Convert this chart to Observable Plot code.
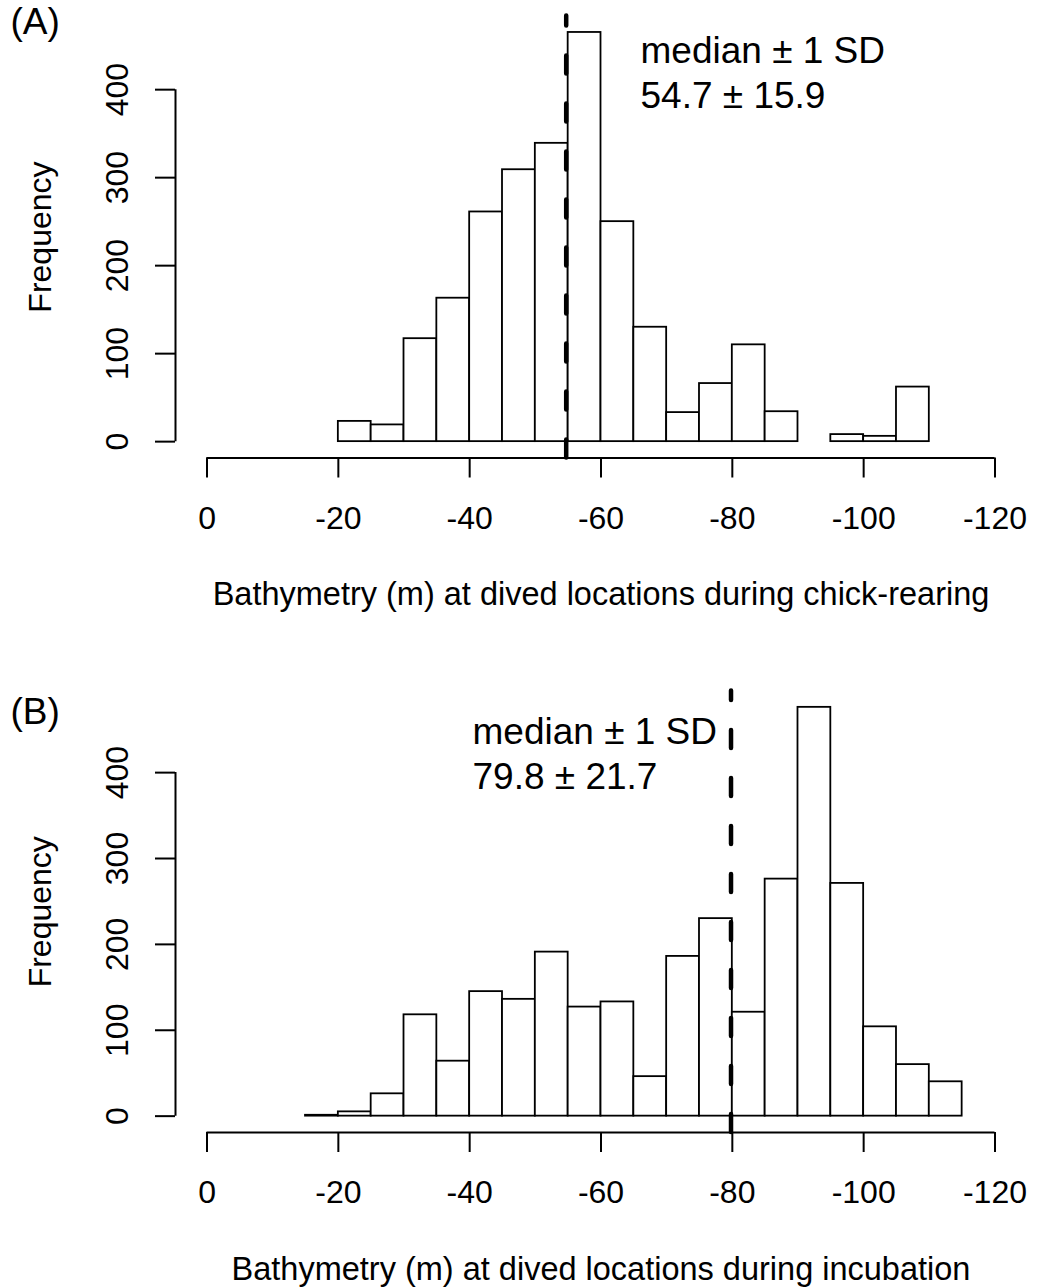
<!DOCTYPE html>
<html>
<head>
<meta charset="utf-8">
<script src="https://cdn.jsdelivr.net/npm/d3@7"></script>
<script src="https://cdn.jsdelivr.net/npm/@observablehq/plot@0.6"></script>
<style>
  html, body { margin: 0; padding: 0; background: #fff; }
  #chart svg { display: block; }
</style>
</head>
<body>
<div id="chart"></div>
<script>
// ---- data ----
const xTicks = [0, -20, -40, -60, -80, -100, -120];
const yTicks = [0, 100, 200, 300, 400];

const breaksA = [-20, -25, -30, -35, -40, -45, -50, -55, -60, -65, -70, -75, -80, -85, -90, -95, -100, -105, -110];
const countsA = [23, 19, 117, 163, 261, 309, 339, 465, 250, 130, 33, 66, 110, 34, 0, 8, 6, 62];
const medianA = -54.7;
const sdA = 15.9;

const breaksB = [-15, -20, -25, -30, -35, -40, -45, -50, -55, -60, -65, -70, -75, -80, -85, -90, -95, -100, -105, -110, -115];
const countsB = [1, 5, 26, 118, 64, 145, 136, 191, 127, 133, 46, 186, 230, 121, 276, 476, 271, 104, 60, 40];
const medianB = -79.8;
const sdB = 21.7;

const labelA = "(A)";
const labelB = "(B)";
const xTitleA = "Bathymetry (m) at dived locations during chick-rearing";
const xTitleB = "Bathymetry (m) at dived locations during incubation";
const yTitle = "Frequency";

const FONT = "'Liberation Sans', Arial, Helvetica, sans-serif";

function panel({breaks, counts, median, sd, label, xTitle, height, marginTop, marginBottom,
                labelDy, annDx, annDy}) {
  const bins = counts.map((c, i) => ({x1: breaks[i], x2: breaks[i + 1], count: c}));
  const lo = xTicks[0], hi = xTicks[xTicks.length - 1];
  const xpad = 0.04 * (lo - hi);
  const xDomain = [lo + xpad, hi - xpad];
  const ymax = d3.max(counts);
  const yDomain = [-0.04 * ymax, 1.04 * ymax];
  const ann = ["median \u00b1 1 SD", `${Math.abs(median)} \u00b1 ${sd}`].join("\n");

  return Plot.plot({
    width: 1038,
    height,
    marginTop,
    marginBottom,
    marginLeft: 175,
    marginRight: 12,
    style: {fontFamily: FONT, color: "black", background: "white", overflow: "visible"},
    x: {domain: xDomain},
    y: {domain: yDomain},
    marks: [
      Plot.rect(bins, {x1: "x1", x2: "x2", y1: () => 0, y2: "count",
        fill: "white", stroke: "black", strokeWidth: 1.8}),
      Plot.ruleX([median], {x: d => d, y1: () => yDomain[0], y2: () => yDomain[1],
        stroke: "black", strokeWidth: 4.5, strokeDasharray: "18,30", strokeLinecap: "round"}),
      // axis lines (R style: spanning first to last tick)
      Plot.ruleY([yDomain[0]], {y: d => d, x1: () => lo, x2: () => hi, stroke: "black", strokeWidth: 2}),
      Plot.ruleX([xDomain[0]], {x: d => d, y1: () => yTicks[0], y2: () => yTicks[yTicks.length - 1],
        stroke: "black", strokeWidth: 2}),
      Plot.axisX({ticks: xTicks, tickSize: 20, tickPadding: 28, tickFormat: d => String(d),
        fontSize: 32, strokeWidth: 2, label: null}),
      Plot.axisY({ticks: yTicks, tickSize: 20, tickFormat: () => "", strokeWidth: 2, label: null}),
      Plot.text(yTicks, {y: d => d, text: d => String(d), frameAnchor: "left", dx: -58,
        rotate: -90, fontSize: 32, textAnchor: "middle", lineAnchor: "middle"}),
      Plot.text([yTitle], {text: d => d, frameAnchor: "left", dx: -135, rotate: -90,
        fontSize: 32, textAnchor: "middle", lineAnchor: "middle"}),
      Plot.text([xTitle], {text: d => d, frameAnchor: "bottom", dy: 137, fontSize: 32.5,
        lineAnchor: "middle"}),
      Plot.text([label], {text: d => d, frameAnchor: "top-left", dx: -165, dy: labelDy,
        fontSize: 37, textAnchor: "start", lineAnchor: "middle"}),
      Plot.text([ann], {text: d => d, frameAnchor: "top-left", dx: annDx, dy: annDy,
        fontSize: 37, lineHeight: 1.21, textAnchor: "start", lineAnchor: "middle"})
    ]
  });
}

const chart = document.getElementById("chart");
chart.appendChild(panel({
  breaks: breaksA, counts: countsA, median: medianA, sd: sdA, label: labelA, xTitle: xTitleA,
  height: 643, marginTop: 15.6, marginBottom: 185.5, labelDy: 6.4, annDx: 465, annDy: 55
}));
chart.appendChild(panel({
  breaks: breaksB, counts: countsB, median: medianB, sd: sdB, label: labelB, xTitle: xTitleB,
  height: 644, marginTop: 47.5, marginBottom: 155, labelDy: 21.5, annDx: 297, annDy: 61.5
}));
</script>
</body>
</html>
